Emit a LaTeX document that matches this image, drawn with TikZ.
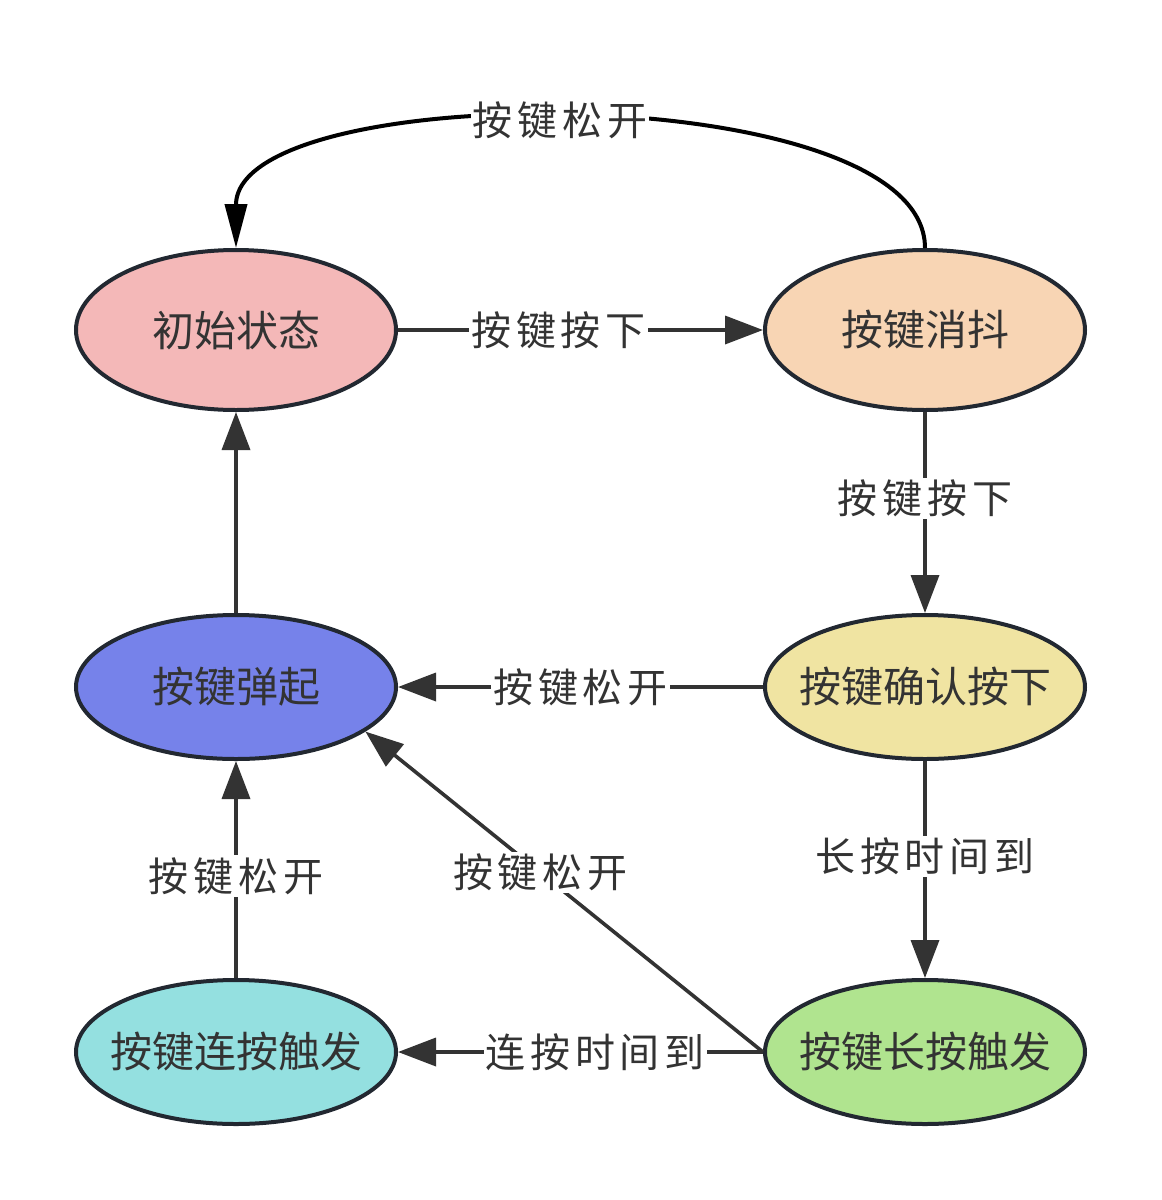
\documentclass[tikz,border=0pt]{standalone}
\usepackage{fontspec}
\setmainfont{Noto Sans CJK SC}
\newfontfamily\labfont[LetterSpace=12]{Noto Sans CJK SC}
\usetikzlibrary{shapes.geometric,arrows.meta}
\definecolor{txt}{HTML}{333333}
\definecolor{bord}{HTML}{222831}
\definecolor{cpink}{HTML}{F4B8B8}
\definecolor{cpeach}{HTML}{F8D5B4}
\definecolor{cyellow}{HTML}{F0E4A2}
\definecolor{cblue}{HTML}{7682EA}
\definecolor{ccyan}{HTML}{94E0E0}
\definecolor{cgreen}{HTML}{B0E48F}
\newcommand{\zw}[1]{\makebox[0pt]{#1}}
\tikzset{
  state/.style={ellipse, draw=bord, line width=4pt, minimum width=320pt, inner sep=0pt, text=txt,
    font=\fontsize{42}{50}\selectfont},
  tall/.style={minimum height=160pt},
  short/.style={minimum height=144pt},
  conn/.style={draw=txt, line width=3.6pt, -{Triangle[length=38pt,width=28pt]}},
  lab/.style={fill=white, inner sep=2pt, text=txt, font=\labfont\fontsize{40}{46}\selectfont}
}
\begin{document}
\begin{tikzpicture}[x=1pt,y=-1pt]
\useasboundingbox (0,0) rectangle (1162,1200);
\node[state,tall,fill=cpink] (init) at (236,330) {\zw{初始状态}};
\node[state,tall,fill=cpeach] (xd) at (925,330) {\zw{按键消抖}};
\node[state,short,fill=cyellow] (qr) at (925,687) {\zw{按键确认按下}};
\node[state,short,fill=cblue] (tq) at (236,687) {\zw{按键弹起}};
\node[state,short,fill=ccyan] (lian) at (236,1052) {\zw{按键连按触发}};
\node[state,short,fill=cgreen] (chang) at (925,1052) {\zw{按键长按触发}};

\draw[line width=4pt, black, -{Triangle[length=44pt,width=22pt]}]
  (xd.north) .. controls (925,77) and (236,77) .. node[lab, pos=0.52] {按键松开} (init.north);
\draw[conn] (init) -- node[lab, pos=0.44] {按键按下} (xd);
\draw[conn] (xd) -- node[lab, pos=0.43] {按键按下} (qr);
\draw[conn] (qr) -- node[lab] {按键松开} (tq);
\draw[conn] (qr) -- node[lab, pos=0.44] {长按时间到} (chang);
\draw[conn] (chang) -- node[lab, pos=0.46] {连按时间到} (lian);
\draw[conn] (chang.west) -- node[lab, pos=0.56] {按键松开} (tq.-19);
\draw[conn] (lian) -- node[lab, pos=0.47] {按键松开} (tq);
\draw[conn] (tq) -- (init);
\end{tikzpicture}
\end{document}
